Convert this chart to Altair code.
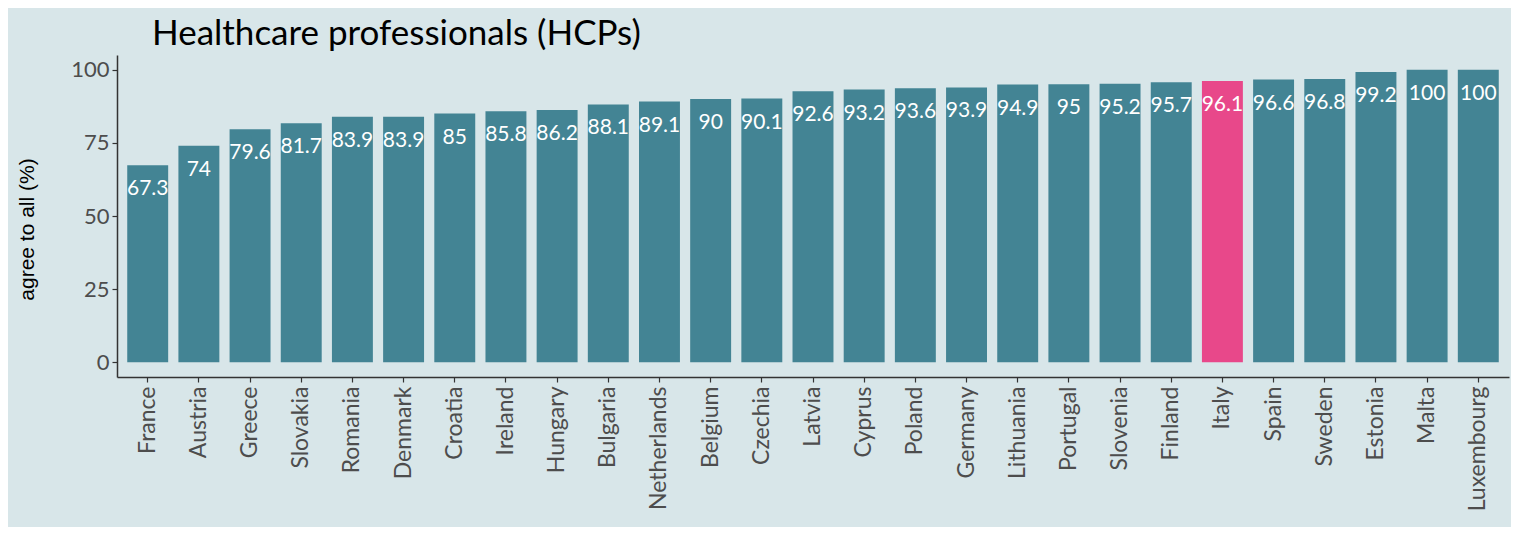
import altair as alt
import pandas as pd

countries = ["France", "Austria", "Greece", "Slovakia", "Romania", "Denmark", "Croatia",
             "Ireland", "Hungary", "Bulgaria", "Netherlands", "Belgium", "Czechia", "Latvia",
             "Cyprus", "Poland", "Germany", "Lithuania", "Portugal", "Slovenia", "Finland",
             "Italy", "Spain", "Sweden", "Estonia", "Malta", "Luxembourg"]
values = [67.3, 74, 79.6, 81.7, 83.9, 83.9, 85, 85.8, 86.2, 88.1, 89.1, 90, 90.1, 92.6,
          93.2, 93.6, 93.9, 94.9, 95, 95.2, 95.7, 96.1, 96.6, 96.8, 99.2, 100, 100]
labels = ["67.3", "74", "79.6", "81.7", "83.9", "83.9", "85", "85.8", "86.2", "88.1", "89.1",
          "90", "90.1", "92.6", "93.2", "93.6", "93.9", "94.9", "95", "95.2", "95.7", "96.1",
          "96.6", "96.8", "99.2", "100", "100"]
highlight = "Italy"

df = pd.DataFrame({"country": countries, "value": values, "label": labels})
df["hl"] = ["yes" if c == highlight else "no" for c in countries]

BG = "#d8e6e9"
FONT = "Lato"

x = alt.X("country:N", sort=None, title=None,
          scale=alt.Scale(paddingInner=0.2, paddingOuter=0.2),
          axis=alt.Axis(labelAngle=-90, labelFontSize=23, labelColor="#4d4d4d", labelFont=FONT,
                        labelPadding=4, tickSize=5, tickColor="#333333", domainColor="#333333",
                        domainWidth=1.5, tickWidth=1.2))
y = alt.Y("value:Q", title="agree to all (%)",
          scale=alt.Scale(domain=[-5, 105], nice=False, zero=False),
          axis=alt.Axis(values=[0, 25, 50, 75, 100], labelFontSize=22, labelColor="#4d4d4d",
                        labelFont=FONT, labelPadding=3, tickSize=5, tickColor="#333333",
                        domainColor="#333333", domainWidth=1.5, tickWidth=1.2, grid=False,
                        titleFont="Liberation Sans", titleFontSize=21, titleFontWeight="normal",
                        titleColor="#000000", titleX=-80, titleY=174, titleAlign="center"))

base = alt.Chart(df)

bars = base.mark_bar().encode(
    x=x,
    y=y,
    y2=alt.datum(0),
    color=alt.Color("hl:N", scale=alt.Scale(domain=["no", "yes"], range=["#438494", "#e8488a"]),
                    legend=None),
)

text = base.mark_text(color="white", fontSize=21, font=FONT, align="center",
                      baseline="alphabetic", dy=30).encode(
    x=alt.X("country:N", sort=None),
    y=alt.Y("value:Q"),
    text="label:N",
)

chart = (bars + text).properties(
    width=1392,
    height=322,
    background=BG,
    autosize=alt.AutoSizeParams(type="none"),
    padding={"left": 109, "top": 47, "right": 2, "bottom": 150},
    title=alt.TitleParams("Healthcare professionals (HCPs)", anchor="start", frame="group",
                          font=FONT, fontSize=35, fontWeight="normal", color="#000000",
                          dx=35, offset=3),
).configure_view(stroke=None)

chart.save("out.html", embed_options={"renderer": "svg", "actions": False})
